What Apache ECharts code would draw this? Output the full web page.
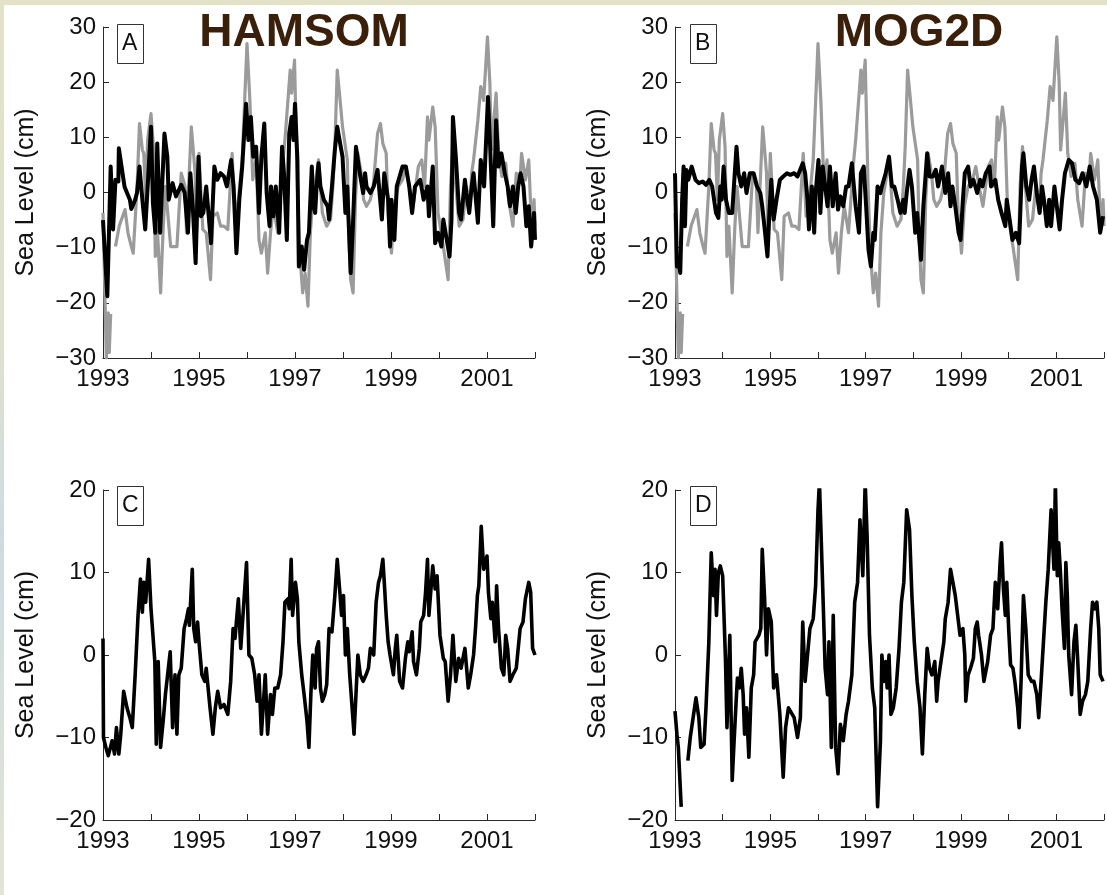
<!DOCTYPE html>
<html>
<head>
<meta charset="utf-8">
<script src="https://cdn.jsdelivr.net/npm/echarts@6/dist/echarts.min.js"></script>
<style>
  html, body { margin: 0; padding: 0; width: 1107px; height: 895px; overflow: hidden; }
  body { background: linear-gradient(180deg, #e4e1c9 0%, #dde2cf 40%, #cddbe2 60%, #e2e5d4 100%); position: relative; }
  #paper { position: absolute; left: 4px; top: 5px; width: 1103px; height: 890px; background: #ffffff; }
  #chart { position: absolute; left: 0; top: 0; width: 1107px; height: 895px; }
</style>
</head>
<body>
<div id="paper"></div>
<div id="chart"></div>
<script>
// ---------- DATA (t = years since start of 1993, value in cm) ----------
const startYear = 1993;
const yearLabels = [1993, 1995, 1997, 1999, 2001];
const panelTitles = ['HAMSOM', 'MOG2D'];
const panelLetters = ['A', 'B', 'C', 'D'];
const yLabel = 'Sea Level (cm)';

// Observed (altimetry) residual, grey, shared by panels A and B
const obsResidual = [
[0,-3.7],[0.07,-30],[0.11,-21.8],[0.13,-29],[0.16,-22],[0.2,'-'],[0.26,-9.8],[0.34,-6],[0.41,-4.3],[0.46,-3.1],[0.52,-7.3],[0.59,-9.8],[0.63,-11],
[0.71,1.1],[0.76,12.5],[0.82,7.7],[0.85,7.1],[0.89,-1.3],[0.93,9.5],[1.00,14.3],[1.05,8.3],[1.09,-11.6],[1.13,-6.1],[1.20,-18.2],
[1.25,-7.3],[1.30,1.1],[1.41,-9.8],[1.54,-9.8],[1.63,3.5],[1.71,1.1],[1.74,-7.3],[1.84,11.9],[1.92,3.5],[1.95,-7.3],[2.00,7.1],
[2.08,-6.7],[2.15,-7.3],[2.24,-15.8],[2.29,-4.3],[2.38,-3.7],[2.45,-6.1],[2.52,-6.1],[2.60,-6.7],[2.69,7.1],[2.75,-4.3],[2.82,-1.3],
[2.90,5.9],[3.00,27],[3.06,16.7],[3.12,2.3],[3.19,5.9],[3.25,-8.6],[3.30,-11],[3.38,-7.3],[3.43,-14.6],[3.49,-7.3],[3.55,-2.5],
[3.64,-7.3],[3.75,5.9],[3.79,9.5],[3.90,22.2],[3.93,18],[3.99,24],[4.05,1.1],[4.10,-11],[4.16,-18.2],[4.21,-14.6],[4.27,-20.6],
[4.32,-7.3],[4.38,-0.1],[4.45,3.5],[4.49,5.9],[4.57,-3.7],[4.66,-6.1],[4.74,-4.9],[4.79,1.1],[4.83,8.3],[4.88,22.2],[4.94,16.7],
[4.99,11.9],[5.03,9.5],[5.09,5.9],[5.12,-7.3],[5.16,-15.8],[5.21,-18.2],[5.26,-1.3],[5.31,7.1],[5.38,3.5],[5.43,-1.3],[5.49,-2.5],
[5.57,-1.3],[5.63,1.1],[5.72,10.7],[5.78,12.5],[5.83,8.9],[5.90,7.1],[5.94,-3.7],[6.01,-11],[6.07,-2.5],[6.15,1.1],[6.24,2.3],
[6.31,4.7],[6.38,1.1],[6.46,-2.5],[6.57,4.7],[6.64,5.9],[6.70,1.1],[6.76,13.7],[6.79,9.5],[6.87,15.5],[6.92,11.9],[6.98,-3.7],
[7.09,-9.8],[7.19,-15.8],[7.24,1.1],[7.29,8.3],[7.35,1.1],[7.42,-6.1],[7.50,-4.9],[7.57,1.1],[7.65,-2.5],[7.68,3.5],[7.72,5.9],
[7.81,13.1],[7.87,19.2],[7.93,16.7],[8.01,28.2],[8.06,19.8],[8.09,7.7],[8.19,18],[8.24,7.1],[8.31,2.9],[8.39,5.3],[8.45,-1.3],
[8.54,-6.1],[8.61,3.5],[8.69,2.3],[8.72,7.1],[8.80,2.3],[8.87,5.9],[8.93,-6.7],[8.98,-1.3],[9.0,-6.1]
];

// HAMSOM modelled residual (panel A, black)
const hamsomResidual = [
[0,-5],[0.09,-18.8],[0.16,4.7],[0.21,-6.7],[0.26,2.3],[0.32,2],[0.33,8],[0.45,1],[0.56,-1.3],[0.59,-3],[0.67,-1.3],[0.71,0],
[0.76,4.7],[0.82,-1.3],[0.88,-6.7],[0.93,1],[1.00,11.9],[1.04,-1.9],[1.09,-7.3],[1.13,8.9],[1.16,1],[1.19,-7.3],[1.28,10.7],
[1.34,6.5],[1.37,-1.3],[1.45,1.7],[1.52,-0.7],[1.63,1.4],[1.70,0],[1.77,-7.3],[1.82,3.5],[1.87,-2.5],[1.93,-12.8],[1.99,6.5],
[2.04,-4.3],[2.09,-3.7],[2.15,1.1],[2.25,-9.2],[2.32,4.7],[2.38,2.3],[2.45,3.5],[2.52,2.9],[2.58,1.1],[2.67,5.9],[2.72,1.1],
[2.78,-11],[2.84,-1.3],[2.90,4.7],[2.98,16.1],[3.03,9.5],[3.08,13.7],[3.13,6.5],[3.19,8.3],[3.25,-3.7],[3.30,6.5],[3.36,12.5],
[3.41,-0.1],[3.47,-6.1],[3.50,1.1],[3.55,-4.3],[3.60,1.1],[3.67,-7.3],[3.73,8.3],[3.77,3.5],[3.83,-8.6],[3.88,10.7],[3.93,13.7],
[3.97,9.5],[4.00,16.1],[4.05,5.9],[4.08,-13.4],[4.14,-9.8],[4.19,-14],[4.25,-8.6],[4.29,-7.3],[4.32,-1.3],[4.35,4.7],[4.38,-2.5],
[4.42,-3.7],[4.45,1.1],[4.49,5.3],[4.53,1.1],[4.60,-1.3],[4.68,-2.5],[4.71,-4.9],[4.77,1.1],[4.83,7.7],[4.88,11.9],[4.94,8.9],
[4.99,6.5],[5.05,-3.7],[5.09,1.1],[5.11,-3.7],[5.16,-14.6],[5.20,-7.3],[5.27,8.3],[5.35,3.5],[5.42,-0.1],[5.46,3.5],[5.49,1.1],
[5.57,-0.1],[5.64,1.1],[5.72,4.1],[5.81,-4.9],[5.86,3.5],[5.94,-1.3],[5.98,-9.8],[6.01,-1.3],[6.07,-8.6],[6.12,1.1],[6.24,4.7],
[6.31,4.7],[6.38,1.1],[6.44,-3.7],[6.50,1.1],[6.61,2.3],[6.68,-1.3],[6.76,1.1],[6.79,-4.3],[6.87,4.7],[6.92,-9.2],[6.98,-7.3],
[7.05,-9.8],[7.09,-4.9],[7.22,-11.6],[7.26,-4.9],[7.29,13.7],[7.35,6.5],[7.42,-3.7],[7.46,-4.9],[7.54,2.3],[7.57,-0.1],[7.63,-3.7],
[7.68,1.1],[7.72,3.5],[7.81,-5.5],[7.87,5.9],[7.94,1.1],[8.02,17.3],[8.06,9.5],[8.13,-6.1],[8.19,13.1],[8.24,4.7],[8.30,7.1],
[8.37,3.5],[8.43,1.1],[8.48,-2.5],[8.54,1.1],[8.60,-3.7],[8.65,1.1],[8.70,3.5],[8.76,1.1],[8.82,-6.1],[8.87,-2.5],[8.92,-9.8],
[8.98,-3.7],[9.0,-8.6]
];

// MOG2D modelled residual (panel B, black)
const mog2dResidual = [
[0,3.5],[0.04,-13.4],[0.07,-12.2],[0.11,-14.6],[0.15,-1.3],[0.18,4.7],[0.21,-6.1],[0.24,4.1],[0.28,2.3],[0.35,4.7],[0.43,2.3],
[0.50,1.7],[0.58,2.0],[0.65,1.4],[0.72,2.3],[0.78,1.1],[0.86,-3.7],[0.91,-4.6],[0.95,1.1],[0.98,-1.3],[1.02,4.7],[1.07,-1.3],
[1.13,-3.7],[1.20,-3.7],[1.29,8.3],[1.33,3.5],[1.39,1.1],[1.45,3.5],[1.50,-0.1],[1.57,3.5],[1.65,3.5],[1.72,1.1],[1.79,-0.1],
[1.83,-2.5],[1.89,-7.3],[1.94,-11.6],[1.98,-3.7],[2.02,2.3],[2.07,-4.9],[2.13,-1.3],[2.20,2.3],[2.27,2.9],[2.35,3.5],[2.42,3.2],
[2.50,3.5],[2.57,2.9],[2.68,5.3],[2.73,3.5],[2.78,-1.3],[2.81,-6.7],[2.87,1.1],[2.92,-7.3],[2.95,-0.1],[3.01,5.9],[3.05,-3.7],
[3.10,4.7],[3.15,1.1],[3.20,-2.5],[3.25,4.7],[3.31,-2.5],[3.37,3.5],[3.42,-3.1],[3.47,-0.7],[3.53,-2.5],[3.59,1.1],[3.64,1.1],
[3.71,5.3],[3.79,-2.5],[3.86,-7.3],[3.90,3.5],[3.96,4.7],[4.01,-2.5],[4.06,-10.4],[4.11,-13.4],[4.16,-7.3],[4.19,-8.6],[4.25,1.1],
[4.31,-0.1],[4.34,1.1],[4.42,3.5],[4.49,6.5],[4.55,1.1],[4.60,1.1],[4.67,-1.3],[4.73,-3.7],[4.79,-1.3],[4.82,-3.7],[4.86,-0.1],
[4.92,4.1],[4.97,1.1],[5.04,-7.3],[5.08,-3.7],[5.16,-12.2],[5.21,-2.5],[5.29,7.1],[5.34,2.9],[5.41,2.9],[5.47,4.1],[5.52,1.1],
[5.60,4.7],[5.67,-0.1],[5.73,3.5],[5.78,-2.5],[5.82,1.1],[5.88,-2.5],[5.95,-7.3],[5.99,-8.6],[6.04,-1.3],[6.08,3.5],[6.15,4.7],
[6.20,1.1],[6.26,2.3],[6.34,-0.1],[6.40,2.3],[6.45,1.1],[6.52,3.5],[6.60,4.7],[6.63,1.1],[6.72,2.3],[6.78,-1.3],[6.85,-3.7],
[6.93,-6.1],[6.96,-1.3],[7.02,-4.9],[7.08,-8.6],[7.15,-7.3],[7.22,-9.2],[7.28,4.7],[7.31,7.1],[7.37,1.1],[7.43,-1.3],[7.48,2.3],
[7.53,4.7],[7.59,-0.1],[7.65,-3.7],[7.70,1.1],[7.74,-1.3],[7.80,-6.1],[7.85,-1.3],[7.89,-6.1],[7.96,1.1],[8.01,-2.5],[8.07,-6.7],
[8.12,-1.3],[8.18,3.5],[8.26,5.9],[8.33,5.3],[8.40,2.3],[8.48,1.7],[8.55,3.5],[8.63,1.1],[8.70,4.7],[8.77,1.1],[8.85,-1.3],
[8.92,-7.3],[8.98,-4.3]
];

// HAMSOM total sea level (panel C)
const hamsomTotal = [
[0,2],[0.01,-10],[0.06,-11.2],[0.11,-12.2],[0.19,-10.4],[0.24,-12],[0.28,-8.8],[0.33,-12],[0.37,-9.6],[0.43,-4.4],[0.50,-6.4],
[0.56,-7.6],[0.61,-8.8],[0.67,-2.4],[0.73,4.8],[0.78,9.2],[0.82,5.2],[0.85,8.8],[0.89,6.4],[0.95,11.6],[1.00,5.6],[1.04,2.4],
[1.08,-0.8],[1.11,-10.8],[1.15,-0.8],[1.20,-11.2],[1.26,-7.6],[1.30,-4.8],[1.40,0.4],[1.45,-8.8],[1.50,-2.4],[1.54,-9.6],[1.58,-2.4],
[1.63,-1.6],[1.69,3.2],[1.74,4.4],[1.78,5.6],[1.80,3.6],[1.86,10.4],[1.89,3.2],[1.93,1.6],[1.97,4],[2.00,1.6],[2.06,-2.4],
[2.12,-3.2],[2.15,-1.6],[2.23,-6.4],[2.29,-9.6],[2.34,-6.4],[2.39,-4.4],[2.45,-6.4],[2.52,-6],[2.60,-7.2],[2.66,-3.2],[2.71,3.2],
[2.75,2],[2.82,6.8],[2.87,0.8],[2.99,11.2],[3.04,0],[3.10,-0.4],[3.16,-2.4],[3.21,-5.6],[3.25,-2.4],[3.30,-9.6],[3.38,-2.4],
[3.43,-9.6],[3.49,-4.8],[3.53,-7.2],[3.58,-4],[3.64,-4],[3.70,-2.4],[3.75,1.6],[3.79,6.4],[3.85,6.8],[3.88,5.6],[3.92,11.6],
[3.95,4.8],[4.01,8.8],[4.05,6.8],[4.08,1.6],[4.14,-2.4],[4.19,-4.8],[4.25,-8],[4.29,-11.2],[4.33,-4.8],[4.37,0],[4.39,-2.4],
[4.42,-4],[4.45,0.8],[4.49,1.6],[4.53,-4],[4.57,-5.6],[4.62,-4.8],[4.66,-3.6],[4.71,3.2],[4.77,2.8],[4.83,7.2],[4.88,11.6],
[4.94,7.2],[4.97,4.8],[5.01,7.2],[5.05,0],[5.09,3.2],[5.14,-2.4],[5.23,-9.6],[5.31,0],[5.36,-2.4],[5.42,-3.2],[5.48,-2.4],
[5.53,-1.6],[5.57,0.8],[5.64,0],[5.69,6.4],[5.74,8.8],[5.78,9.6],[5.83,11.6],[5.86,8.8],[5.90,4.8],[5.94,1.6],[5.98,0],
[6.05,-2.4],[6.09,0.8],[6.12,2.4],[6.18,-3.2],[6.24,-4],[6.30,-0.4],[6.35,1.6],[6.38,0.4],[6.44,2.8],[6.47,-0.8],[6.53,-2.4],
[6.59,0.8],[6.62,4],[6.68,4.8],[6.72,7.6],[6.76,11.6],[6.79,4.8],[6.87,10.8],[6.92,8],[6.96,9.6],[7.02,2.4],[7.09,-0.4],
[7.13,-0.8],[7.19,-5.6],[7.24,-2.4],[7.29,2.4],[7.35,-3.2],[7.41,-0.4],[7.46,-1.6],[7.54,0.8],[7.61,-4],[7.66,-2.4],[7.72,0],
[7.76,3.2],[7.80,7.2],[7.83,8.4],[7.88,15.6],[7.93,10.4],[8.00,12],[8.03,7.6],[8.08,4.4],[8.11,6.4],[8.17,1.6],[8.20,8.4],
[8.24,3.2],[8.30,-1.6],[8.35,-2.4],[8.39,2.4],[8.43,0.8],[8.48,-3.2],[8.54,-2.4],[8.61,-1.6],[8.69,3.2],[8.75,4],[8.80,6.8],
[8.87,8.8],[8.91,7.6],[8.95,0.8],[9.0,0]
];

// MOG2D total sea level (panel D)
const mog2dTotal = [
[0,-6.8],[0.04,-9.6],[0.07,-11.2],[0.13,-18.4],[0.2,'-'],[0.27,-12.8],[0.32,-10],[0.44,-5.2],[0.50,-7.6],[0.54,-11.2],[0.61,-10.8],
[0.65,-6.4],[0.71,1.6],[0.76,12.4],[0.81,7.2],[0.84,10.4],[0.87,4.8],[0.91,10],[0.95,10.8],[1.00,9.6],[1.06,-0.8],[1.09,-8.8],
[1.15,2.4],[1.20,-15.2],[1.24,-10.4],[1.29,-4.8],[1.31,-2.8],[1.35,-4],[1.39,-1.6],[1.43,-4.8],[1.46,-9.6],[1.50,-6.4],[1.55,-12.4],
[1.60,-4],[1.65,-2.4],[1.68,1.6],[1.76,2.4],[1.80,3.2],[1.83,12.8],[1.88,6.8],[1.92,0],[1.96,5.6],[2.02,4],[2.07,-4],[2.13,-2.4],
[2.20,-7.2],[2.27,-14.8],[2.32,-8.8],[2.38,-6.4],[2.42,-6.8],[2.50,-7.6],[2.57,-10],[2.63,-7.6],[2.68,4],[2.73,-3.2],[2.78,0],
[2.83,3.2],[2.90,4.4],[2.95,8.4],[3.00,17.6],[3.03,21],[3.07,21],[3.10,8],[3.15,-1.6],[3.20,-4.8],[3.23,1.6],[3.28,-11.2],
[3.32,4.8],[3.37,-11.2],[3.42,-14.4],[3.47,-8.4],[3.53,-10.4],[3.59,-7.2],[3.64,-5.6],[3.71,-2.4],[3.77,6.4],[3.83,8.8],[3.88,16.4],
[3.94,9.6],[3.99,21],[4.03,14.4],[4.08,2.4],[4.14,-4],[4.19,-6.4],[4.25,-18.4],[4.31,-10.4],[4.34,0],[4.38,-3.2],[4.42,-0.8],
[4.45,-4],[4.49,0],[4.53,-7.2],[4.58,-6.4],[4.64,-4],[4.70,0.8],[4.75,6.4],[4.80,8.8],[4.86,17.6],[4.92,15.2],[4.97,7.2],
[5.02,1.6],[5.08,-3.2],[5.14,-6.4],[5.19,-12],[5.24,-4.8],[5.29,0.8],[5.34,-1.6],[5.39,-2.4],[5.45,-0.8],[5.49,-5.6],[5.52,-3.2],
[5.58,-0.8],[5.64,1.6],[5.67,4.4],[5.73,6.4],[5.78,10.4],[5.83,8.8],[5.88,7.2],[5.93,4.8],[5.98,2.4],[6.04,3.2],[6.08,0],
[6.10,-5.6],[6.15,-2.4],[6.20,-1.6],[6.26,-0.4],[6.30,3.2],[6.34,4],[6.37,2.4],[6.43,0],[6.48,-3.2],[6.56,-0.8],[6.62,2.4],
[6.67,3.2],[6.72,8.8],[6.77,5.6],[6.82,11.2],[6.85,13.6],[6.89,8],[6.93,4.8],[6.96,8.8],[7.00,3.2],[7.04,-1.2],[7.09,-1.6],
[7.13,-3.2],[7.19,-6.4],[7.22,-8.8],[7.26,-3.2],[7.31,7.2],[7.36,3.2],[7.41,-2.4],[7.48,-3.2],[7.53,-3.2],[7.59,-4.8],[7.63,-7.6],
[7.68,-3.2],[7.73,1.6],[7.78,6.4],[7.83,10.4],[7.89,17.6],[7.95,10.4],[7.98,21],[8.02,9.6],[8.05,13.6],[8.09,9.6],[8.12,5.6],
[8.17,0.8],[8.20,11.2],[8.23,7.2],[8.26,0],[8.32,-4.8],[8.37,1.6],[8.41,3.6],[8.45,-0.8],[8.50,-7.2],[8.55,-5.6],[8.61,-4.8],
[8.66,-3.2],[8.72,3.2],[8.76,6.4],[8.81,5.6],[8.85,6.4],[8.89,3.2],[8.92,-2.4],[8.98,-3.2]
];

// ---------- CHART ----------
const toYears = arr => arr.map(p => [startYear + p[0], p[1]]);
const FONT = '"Liberation Sans", Arial, Helvetica, sans-serif';
const AXIS_COLOR = '#2a2a2a';
const minus = v => String(v).replace('-', '\u2212');

const grids = [
  { left: 103, top: 27, width: 432, height: 331 },
  { left: 675, top: 27, width: 434, height: 331 },
  { left: 103, top: 490, width: 432, height: 330 },
  { left: 675, top: 490, width: 434, height: 330 }
];
const yRanges = [[-30, 30], [-30, 30], [-20, 20], [-20, 20]];

const xAxes = grids.map((g, i) => ({
  type: 'value', gridIndex: i, min: startYear, max: startYear + 9, interval: 1,
  axisLine: { show: true, onZero: false, lineStyle: { color: AXIS_COLOR, width: 1 } },
  axisTick: { show: true, inside: true, length: 6, lineStyle: { color: AXIS_COLOR } },
  splitLine: { show: false },
  axisLabel: {
    margin: 9, color: '#111', fontFamily: FONT, fontSize: 24,
    formatter: v => yearLabels.includes(v) ? String(v) : ''
  }
}));

const yAxes = grids.map((g, i) => ({
  type: 'value', gridIndex: i, min: yRanges[i][0], max: yRanges[i][1], interval: 10,
  name: yLabel, nameLocation: 'middle', nameGap: 64, nameRotate: 90,
  nameTextStyle: { color: '#111', fontFamily: FONT, fontSize: 25 },
  axisLine: { show: true, onZero: false, lineStyle: { color: AXIS_COLOR, width: 1 } },
  axisTick: { show: true, inside: true, length: 6, lineStyle: { color: AXIS_COLOR } },
  splitLine: { show: false },
  axisLabel: { margin: 7, color: '#111', fontFamily: FONT, fontSize: 24, formatter: minus }
}));

const grey = (xi) => ({
  type: 'line', xAxisIndex: xi, yAxisIndex: xi, data: toYears(obsResidual),
  showSymbol: false, symbol: 'none', connectNulls: false,
  lineStyle: { color: '#9b9b9b', width: 3.2, join: 'round' }, z: 2
});
const black = (xi, arr, w) => ({
  type: 'line', xAxisIndex: xi, yAxisIndex: xi, data: toYears(arr),
  showSymbol: false, symbol: 'none', connectNulls: false,
  lineStyle: { color: '#000000', width: w, join: 'round' }, z: 3
});

const letterBoxes = [[117, 24], [690, 24], [117, 486], [690, 486]];
const graphics = [];
letterBoxes.forEach((p, i) => {
  graphics.push({
    type: 'rect', left: p[0], top: p[1], shape: { width: 26, height: 39 },
    style: { fill: '#fff', stroke: '#333', lineWidth: 1 }, z: 10
  });
  graphics.push({
    type: 'text', left: p[0] + 5, top: p[1] + 8,
    style: { text: panelLetters[i], font: '23px ' + FONT, fill: '#111' }, z: 11
  });
});

const chart = echarts.init(document.getElementById('chart'), null, { renderer: 'canvas' });
chart.setOption({
  animation: false,
  backgroundColor: 'transparent',
  title: [
    { text: panelTitles[0], left: 299, top: 5, textAlign: 'center',
      textStyle: { fontFamily: FONT, fontWeight: 'bold', fontSize: 46, color: '#3a1f0a' } },
    { text: panelTitles[1], left: 914, top: 5, textAlign: 'center',
      textStyle: { fontFamily: FONT, fontWeight: 'bold', fontSize: 46, color: '#3a1f0a' } }
  ],
  grid: grids,
  xAxis: xAxes,
  yAxis: yAxes,
  series: [
    grey(0), black(0, hamsomResidual, 4),
    grey(1), black(1, mog2dResidual, 4),
    black(2, hamsomTotal, 3.6),
    black(3, mog2dTotal, 3.6)
  ],
  graphic: graphics
});
</script>
</body>
</html>
